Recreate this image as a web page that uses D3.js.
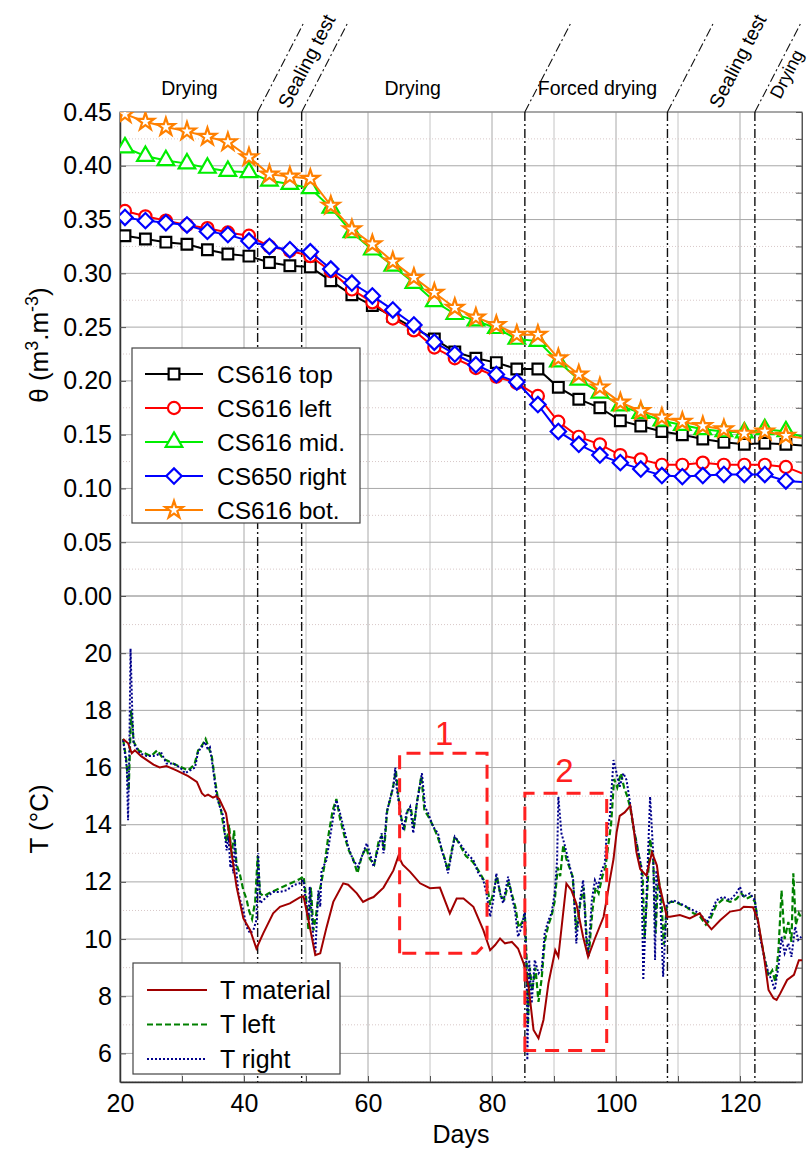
<!DOCTYPE html>
<html>
<head>
<meta charset="utf-8">
<script src="https://cdn.jsdelivr.net/npm/d3@7"></script>
<style>
body { margin: 0; background: #fff; }
text { font-family: "Liberation Sans", Arial, sans-serif; }
</style>
</head>
<body>
<div id="chart"></div>
<script>
// moisture content, one marker every ~3.3 days (last point = axis end, no marker)
var thetaDays = [20.8, 24.1, 27.4, 30.8, 34.1, 37.4, 40.8, 44.1, 47.4, 50.7, 54.0, 57.4, 60.7, 64.0, 67.4, 70.7, 74.0,
  77.4, 80.7, 84.0, 87.4, 90.7, 94.0, 97.4, 100.7, 104.0, 107.4, 110.7, 114.0, 117.4, 120.7, 124.0, 127.4, 130.0];
var csTop = [.335, .332, .329, .327, .322, .318, .316, .310, .307, .306, .293, .280, .270, .260, .249, .239, .227,
  .221, .217, .211, .211, .194, .183, .175, .163, .158, .153, .150, .146, .143, .141, .142, .141, .140];
var csLeft = [.358, .353, .349, .345, .342, .338, .335, .325, .321, .316, .302, .285, .273, .258, .247, .231, .221,
  .212, .204, .198, .186, .162, .148, .141, .131, .127, .122, .122, .124, .122, .122, .122, .120, .114];
var csMid = [.417, .409, .405, .402, .398, .395, .394, .386, .383, .379, .361, .338, .322, .307, .291, .274, .262,
  .256, .249, .239, .237, .218, .201, .189, .177, .170, .163, .159, .155, .153, .152, .155, .153, .148];
var csRight = [.352, .349, .347, .345, .339, .336, .330, .325, .322, .320, .304, .291, .279, .266, .252, .236, .225,
  .215, .206, .199, .178, .153, .141, .131, .124, .118, .112, .111, .112, .113, .113, .113, .107, .106];
var csBot = [.448, .441, .436, .432, .427, .422, .408, .392, .390, .388, .363, .341, .327, .311, .296, .282, .268,
  .259, .252, .243, .243, .221, .206, .194, .180, .172, .166, .162, .158, .155, .151, .153, .149, .147];

// temperatures
var tMatDays = [20.5, 21.3, 21.9, 22.4, 23.4, 25.4, 26.4, 27.5, 29.1, 31.0, 32.4, 33.2, 33.7, 34.2, 35.0, 35.5, 36.0,
  37.1, 37.6, 38.0, 38.8, 39.9, 41.0, 42.0, 43.1, 44.7, 45.8, 47.4, 49.0, 49.6, 50.4, 51.5, 52.3, 53.3, 54.4, 56.0,
  56.8, 58.2, 59.2, 60.1, 60.9, 62.5, 64.1, 64.9, 65.6, 66.8, 68.4, 70.0, 71.6, 73.2, 74.3, 75.4, 77.0, 78.6, 79.7,
  80.5, 81.3, 82.1, 83.2, 84.2, 85.1, 85.9, 86.7, 87.5, 88.3, 89.1, 90.2, 90.7, 92.0, 92.8, 93.6, 94.7, 95.5, 96.6,
  98.0, 98.5, 99.0, 99.6, 100.1, 100.6, 101.4, 102.3, 102.8, 103.3, 103.9, 104.9, 105.8, 106.6, 107.0, 108.2, 108.7,
  110.3, 111.9, 113.5, 114.6, 115.4, 116.8, 118.4, 120.0, 120.6, 122.1, 122.9, 123.8, 124.6, 125.4, 125.9, 126.5,
  127.6, 128.7, 129.5, 130.0];
var tMat = [17.0, 16.85, 16.5, 16.6, 16.4, 16.1, 16.0, 16.05, 15.9, 15.7, 15.5, 15.1, 15.0, 15.05, 14.95, 15.0, 14.9,
  14.4, 13.7, 13.0, 11.83, 10.72, 10.31, 9.67, 10.2, 10.9, 11.13, 11.25, 11.46, 11.5, 10.66, 9.44, 9.5, 10.4, 11.3, 11.95,
  11.9, 11.6, 11.3, 11.4, 11.47, 11.8, 12.4, 12.9, 12.6, 12.35, 11.95, 11.78, 11.8, 10.9, 11.42, 11.42, 11.13, 10.31, 9.61,
  9.79, 10.02, 9.85, 9.9, 9.67, 9.15, 8.33, 6.82, 6.53, 7.17, 8.45, 9.61, 9.38, 11.94, 11.71, 11.24, 10.07, 9.38, 10.02,
  10.78, 11.4, 12.06, 12.8, 13.73, 14.31, 14.43, 14.66, 13.96, 13.03, 12.45, 12.22, 13.03, 12.57, 11.9, 10.78, 10.78,
  10.84, 10.72, 10.9, 10.55, 10.34, 10.66, 10.96, 11.02, 11.13, 11.11, 10.66, 9.5, 8.22, 7.93, 7.87, 8.1,
  8.57, 8.75, 9.26, 9.26];

var tLeftDays = [20.5, 21.0, 21.4, 21.8, 22.2, 23.0, 24.0, 25.0, 26.0, 27.0, 28.0, 29.0, 30.0, 31.0, 32.0, 32.6, 33.3,
  33.8, 34.3, 34.8, 35.3, 35.8, 36.3, 36.8, 37.2, 37.6, 38.0, 38.4, 38.8, 39.3, 39.9, 40.4, 40.8, 41.3, 41.8, 42.2, 42.6,
  43.2, 44.0, 45.0, 46.0, 47.0, 48.0, 49.0, 49.6, 50.0, 50.4, 50.8, 51.2, 51.6, 52.0, 52.4, 53.0, 53.6, 54.3, 54.9, 55.5,
  56.2, 56.9, 57.6, 58.3, 59.0, 59.7, 60.3, 61.0, 61.7, 62.2, 62.6, 63.1, 63.6, 64.1, 64.5, 64.9, 65.4, 65.9, 66.4, 66.9,
  67.4, 67.9, 68.6, 69.1, 69.7, 70.4, 71.2, 71.8, 72.4, 72.9, 73.5, 74.0, 74.8, 75.8, 76.9, 77.8, 78.6, 79.2, 79.7, 80.3,
  80.8, 81.4, 82.0, 82.7, 83.3, 83.8, 84.3, 84.9, 85.3, 85.6, 85.8, 86.1, 86.5, 87.0, 87.5, 88.0, 88.5, 89.1, 89.6, 90.1,
  90.6, 91.0, 91.5, 92.0, 92.5, 93.0, 93.6, 94.2, 94.8, 95.3, 95.6, 96.2, 96.7, 97.2, 97.8, 98.3, 98.7, 99.2, 99.7, 100.2,
  100.8, 101.3, 101.8, 102.3, 102.8, 103.3, 103.8, 104.3, 104.6, 105.0, 105.5, 106.0, 106.4, 106.8, 107.3, 107.7, 108.2,
  108.8, 109.5, 110.5, 111.5, 112.5, 113.5, 114.5, 115.2, 116.2, 117.3, 118.4, 119.4, 120.2, 121.0, 121.8, 122.4, 123.2,
  124.0, 124.6, 125.2, 125.7, 126.2, 126.7, 127.2, 127.8, 128.3, 128.6, 129.0, 129.5, 130.0];
var tLeft = [17.0, 16.3, 15.2, 18.0, 16.9, 16.6, 16.5, 16.4, 16.6, 16.3, 16.2, 16.1, 16.0, 15.9, 16.1, 16.6, 16.8,
  17.0, 16.7, 16.4, 15.6, 14.9, 14.5, 13.8, 13.4, 14.0, 12.9, 13.8, 12.6, 12.3, 11.7, 11.4, 11.0, 10.7, 11.3, 12.9, 11.6,
  11.5, 11.6, 11.7, 11.8, 11.9, 12.0, 12.1, 12.2, 11.5, 10.3, 11.8, 10.3, 10.8, 11.5, 11.9, 12.6, 13.6, 14.5, 14.9, 14.2,
  13.6, 13.1, 12.8, 12.3, 12.9, 13.2, 12.8, 12.6, 13.4, 13.6, 13.1, 14.5, 14.9, 15.4, 15.9, 15.0, 14.2, 13.9, 14.5, 14.6,
  13.9, 14.8, 15.7, 14.5, 14.3, 14.0, 13.6, 13.2, 12.8, 12.4, 13.1, 13.6, 13.3, 12.9, 12.7, 12.4, 12.1, 11.9, 11.2, 11.7,
  12.2, 11.5, 11.4, 12.0, 11.5, 11.1, 10.4, 10.6, 10.9, 9.2, 7.0, 9.0, 8.2, 9.0, 7.8, 8.6, 9.9, 10.5, 10.8, 11.3,
  12.5, 12.2, 13.3, 12.8, 12.5, 12.2, 10.3, 11.2, 11.8, 9.9, 9.4, 11.0, 11.8, 11.6, 12.2, 12.5, 13.2, 14.0, 15.6, 15.3,
  15.8, 15.3, 15.0, 14.6, 13.9, 13.4, 12.8, 12.2, 10.0, 11.5, 13.5, 12.8, 10.2, 12.2, 11.5, 9.8, 11.2,
  11.3, 11.3, 11.2, 11.1, 10.9, 10.8, 10.5, 10.7, 11.2, 11.4, 11.3, 11.4, 11.6, 11.4, 11.5, 11.3, 10.2,
  9.3, 8.7, 8.9, 8.5, 9.6, 11.7, 10.0, 10.6, 9.9, 12.3, 10.5, 10.9, 10.7];

var tRightDays = [20.5, 20.8, 21.1, 21.3, 21.5, 21.7, 22.0, 22.2, 23.2, 24.3, 25.4, 26.7, 27.5, 28.6, 29.7, 30.5, 31.3,
  32.1, 32.6, 33.2, 33.7, 34.1, 34.5, 35.1, 35.6, 36.1, 36.7, 36.9, 37.2, 37.5, 37.8, 38.0, 38.3, 38.5, 38.8, 39.1, 39.4,
  39.9, 40.4, 41.0, 41.5, 42.0, 42.3, 42.6, 43.1, 43.7, 44.7, 45.8, 46.9, 48.0, 49.0, 49.6, 49.8, 50.4, 50.6, 51.2, 51.5,
  51.7, 52.0, 52.3, 52.5, 53.3, 54.4, 54.9, 55.5, 56.3, 56.8, 57.6, 58.4, 59.2, 59.8, 60.3, 60.9, 61.7, 62.2, 62.5, 63.0,
  63.5, 64.1, 64.4, 64.6, 65.2, 65.7, 66.2, 66.8, 67.3, 67.8, 68.7, 69.2, 69.7, 70.5, 71.3, 71.9, 72.4, 72.9, 73.5, 74.0,
  74.8, 75.9, 77.0, 77.8, 78.6, 79.1, 79.7, 80.2, 80.7, 81.3, 81.8, 82.6, 83.2, 83.7, 84.2, 84.8, 85.3, 85.6, 85.7, 86.0,
  86.4, 86.9, 87.5, 88.0, 88.5, 89.1, 89.6, 90.1, 90.5, 90.7, 91.2, 91.8, 92.3, 92.8, 93.1, 93.6, 94.2, 94.7, 95.3, 95.5,
  96.1, 96.6, 97.1, 97.7, 98.2, 98.5, 99.0, 99.6, 100.1, 100.6, 101.2, 101.7, 102.2, 102.5, 103.0, 103.6, 104.1, 104.4,
  104.9, 105.5, 106.0, 106.3, 106.5, 107.1, 107.6, 108.2, 108.7, 109.2, 110.3, 111.4, 112.5, 113.5, 114.6, 115.1, 116.2,
  117.3, 118.4, 119.4, 120.0, 120.5, 121.6, 122.4, 123.2, 124.0, 124.6, 125.1, 125.6, 126.2, 126.7, 127.2, 127.8, 128.3,
  128.9, 129.4, 129.9];
var tRight = [16.96, 16.49, 16.0, 14.16, 16.5, 20.16, 17.8, 16.84, 16.5, 16.4, 16.4, 16.5, 16.14, 16.14, 16.0, 15.8, 15.9,
  16.0, 16.55, 16.72, 16.9, 16.67, 16.72, 15.8, 14.98, 14.63, 14.28, 13.7, 13.1, 13.6, 12.5, 12.76, 12.3, 13.5, 12.3, 11.6, 11.36,
  11.0, 10.43, 10.2, 10.3, 10.66, 13.0, 11.25, 11.36, 11.48, 11.65, 11.65, 11.71, 11.89, 11.95, 12.06, 11.6, 10.66, 11.83, 9.97, 9.5,
  10.43, 11.7, 11.13, 12.4, 12.76, 14.28, 14.86, 14.39, 13.7, 13.23, 12.76, 12.53, 13.0, 13.35, 13.0, 12.53, 13.23, 13.7, 13.0, 14.4,
  14.86, 15.33, 16.0, 15.33, 14.4, 13.8, 14.4, 14.63, 13.7, 14.63, 15.8, 14.63, 14.4, 13.93, 13.7, 13.1, 12.76, 12.3, 13.0, 13.58,
  13.35, 13.0, 12.76, 12.3, 12.06, 11.6, 10.78, 11.36, 12.3, 11.6, 11.25, 12.18, 11.48, 11.0, 10.08, 10.43, 11.0, 8.68, 5.77, 9.27,
  7.75, 9.27, 8.8, 8.92, 10.2, 10.66, 10.9, 11.6, 12.76, 14.98, 13.7, 13.23, 12.76, 12.3, 12.06, 9.85, 11.36, 12.06, 9.62, 9.38,
  11.36, 12.06, 11.83, 12.4, 12.65, 13.7, 14.28, 16.26, 15.8, 15.33, 15.8, 15.56, 14.86, 14.4, 13.7, 13.0, 12.53, 8.57,
  11.36, 14.98, 13.0, 9.27, 12.4, 11.6, 8.68, 11.25, 11.25, 11.36, 11.25, 11.13, 11.0, 10.9, 10.6, 10.78, 11.36,
  11.48, 11.36, 11.6, 11.83, 11.48, 11.6, 11.36, 10.08, 9.27, 8.8, 8.57, 8.22, 9.03, 10.08, 9.5, 9.85, 9.38,
  10.43, 9.97, 10.08];

// test phases
var eventDays = [42.2, 49.3, 85.3, 108.3, 122.4];
var phaseNames = ["Drying", "Sealing test", "Drying", "Forced drying", "Sealing test", "Drying"];
var phaseDays = [31.2, 50.1, 67.2, 97.0, 119.6, 127.5];
var phaseTilted = [false, true, false, false, true, true];

var xTicks = [20, 30, 40, 50, 60, 70, 80, 90, 100, 110, 120, 130];
var thetaTicks = [0, 0.05, 0.1, 0.15, 0.2, 0.25, 0.3, 0.35, 0.4, 0.45];
var tempTicks = [6, 8, 10, 12, 14, 16, 18, 20, 22];

var
  w = 811,
  h = 1150,
  left = 120,
  right = 802,
  topY = 112,
  midY = 596,
  bottomY = 1082;

var x = d3.scaleLinear().domain([20, 130]).range([left, right]);
var yTh = d3.scaleLinear().domain([0, 0.45]).range([midY, topY]);
var yT = d3.scaleLinear().domain([5, 22]).range([bottomY, midY]);

var svg = d3.select("#chart").append("svg")
  .attr("width", w)
  .attr("height", h)
  .attr("style", "background-color: white;");

var defs = svg.append("defs");
defs.append("clipPath").attr("id", "clipTop").append("rect")
  .attr("x", left).attr("y", topY).attr("width", right - left).attr("height", midY - topY);
defs.append("clipPath").attr("id", "clipBot").append("rect")
  .attr("x", left).attr("y", midY).attr("width", right - left).attr("height", bottomY - midY);

// grid
var grid = svg.append("g");
grid.selectAll(".vg").data(xTicks).enter().append("line")
  .attr("x1", function(d) { return x(d); }).attr("x2", function(d) { return x(d); })
  .attr("y1", topY).attr("y2", bottomY)
  .attr("stroke", function(d) { return d % 20 == 0 ? "#a8a8a8" : "#c4c4c4"; })
  .attr("stroke-width", 1);
grid.selectAll(".hgTop").data(thetaTicks).enter().append("line")
  .attr("x1", left).attr("x2", right)
  .attr("y1", function(d) { return yTh(d); }).attr("y2", function(d) { return yTh(d); })
  .attr("stroke", "#a8a8a8");
grid.selectAll(".hmTop").data(thetaTicks.slice(0, -1)).enter().append("line")
  .attr("x1", left).attr("x2", right)
  .attr("y1", function(d) { return yTh(d + 0.025); }).attr("y2", function(d) { return yTh(d + 0.025); })
  .attr("stroke", "#d8c8c8").attr("stroke-dasharray", "1,2");
grid.selectAll(".hgBot").data(tempTicks).enter().append("line")
  .attr("x1", left).attr("x2", right)
  .attr("y1", function(d) { return yT(d); }).attr("y2", function(d) { return yT(d); })
  .attr("stroke", "#a8a8a8");
grid.selectAll(".hmBot").data([5, 7, 9, 11, 13, 15, 17, 19, 21]).enter().append("line")
  .attr("x1", left).attr("x2", right)
  .attr("y1", function(d) { return yT(d); }).attr("y2", function(d) { return yT(d); })
  .attr("stroke", "#d8c8c8").attr("stroke-dasharray", "1,2");

// frame: top/right grey
svg.append("rect").attr("x", left).attr("y", topY).attr("width", right - left).attr("height", bottomY - topY)
  .attr("fill", "none").attr("stroke", "#8a8a8a").attr("stroke-width", 1.2);

// event lines
var ev = svg.append("g")
  .attr("stroke", "#111").attr("stroke-width", 1.4).attr("stroke-dasharray", "9,3,2,3").attr("fill", "none");
ev.selectAll(".ev").data(eventDays).enter().append("line")
  .attr("x1", function(d) { return x(d); }).attr("x2", function(d) { return x(d); })
  .attr("y1", topY).attr("y2", bottomY);
ev.selectAll(".evs").data(eventDays).enter().append("line")
  .attr("x1", function(d) { return x(d); }).attr("x2", function(d) { return x(d) + 46; })
  .attr("y1", topY).attr("y2", 23)
  .attr("stroke-width", 1.1);

// phase labels
svg.selectAll(".phase").data(phaseNames).enter().append("text")
  .attr("transform", function(d, i) {
    var px = x(phaseDays[i]);
    if (phaseTilted[i]) return "translate(" + px + "," + (i == 5 ? 74 : 61) + ") rotate(-62.7)";
    return "translate(" + px + ",95)";
  })
  .attr("text-anchor", "middle")
  .attr("dy", function(d, i) { return phaseTilted[i] ? "0.35em" : 0; })
  .attr("font-size", function(d, i) { return i == 5 ? 18 : 19.5; })
  .text(function(d) { return d; });

// axes
var xAxis = d3.axisBottom(x).tickValues(xTicks)
  .tickFormat(function(d) { return d % 20 == 0 ? d : ""; })
  .tickSizeInner(-6).tickSizeOuter(0).tickPadding(12);
var gx = svg.append("g").attr("transform", "translate(0," + bottomY + ")").call(xAxis);

var yAxisTop = d3.axisLeft(yTh).tickValues(thetaTicks).tickFormat(d3.format(".2f"))
  .tickSizeInner(-6).tickSizeOuter(0).tickPadding(8);
var gyt = svg.append("g").attr("transform", "translate(" + left + ",0)").call(yAxisTop);

var yAxisBot = d3.axisLeft(yT).tickValues(tempTicks.slice(0, -1))
  .tickSizeInner(-6).tickSizeOuter(0).tickPadding(8);
var gyb = svg.append("g").attr("transform", "translate(" + left + ",0)").call(yAxisBot);

var rAxisTop = d3.axisRight(yTh).tickValues(d3.range(0, 0.451, 0.025)).tickFormat("")
  .tickSizeInner(-6).tickSizeOuter(0);
svg.append("g").attr("transform", "translate(" + right + ",0)").call(rAxisTop);
var rAxisBot = d3.axisRight(yT).tickValues(d3.range(5, 22.1, 1)).tickFormat("")
  .tickSizeInner(-6).tickSizeOuter(0);
svg.append("g").attr("transform", "translate(" + right + ",0)").call(rAxisBot);

svg.selectAll(".tick text").attr("font-size", 25).attr("fill", "#000")
  .attr("font-family", "'Liberation Sans', Arial, sans-serif");
svg.selectAll(".domain").attr("stroke", "#555");
svg.selectAll(".tick line").attr("stroke", "#555");
gx.select(".domain").attr("stroke", "#333").attr("stroke-width", 1.5);
gyt.select(".domain").attr("stroke", "#333").attr("stroke-width", 1.5);
gyb.select(".domain").attr("stroke", "#333").attr("stroke-width", 1.5);

svg.append("text").attr("x", x(75)).attr("y", 1143).attr("text-anchor", "middle")
  .attr("font-size", 25).text("Days");

var thLab = svg.append("text").attr("transform", "translate(48,345) rotate(-90)")
  .attr("text-anchor", "middle").attr("font-size", 26);
thLab.append("tspan").text("\u03b8 (m");
thLab.append("tspan").attr("baseline-shift", "super").attr("font-size", 18).text("3");
thLab.append("tspan").text(".m");
thLab.append("tspan").attr("baseline-shift", "super").attr("font-size", 18).text("-3");
thLab.append("tspan").text(")");

svg.append("text").attr("transform", "translate(48," + yT(14.2) + ") rotate(-90)")
  .attr("text-anchor", "middle").attr("font-size", 26).text("T (\u00b0C)");

// moisture series
var thetaSeries = [
  {name: "CS616 top", vals: csTop, color: "#000000", sym: "square"},
  {name: "CS616 left", vals: csLeft, color: "#ff0000", sym: "circle"},
  {name: "CS616 mid.", vals: csMid, color: "#00ee00", sym: "triangle"},
  {name: "CS650 right", vals: csRight, color: "#0000ff", sym: "diamond"},
  {name: "CS616 bot.", vals: csBot, color: "#ff8000", sym: "star"}
];

function symPath(s) {
  if (s == "square") return d3.symbol(d3.symbolSquare, 115)();
  if (s == "circle") return d3.symbol(d3.symbolCircle, 115)();
  if (s == "triangle") return d3.symbol(d3.symbolTriangle, 120)();
  if (s == "diamond") return d3.symbol(d3.symbolSquare, 118)();
  return d3.symbol(d3.symbolStar, 95)();
}
function symRot(s) { return s == "diamond" ? " rotate(45)" : ""; }

var thLine = d3.line()
  .x(function(d, i) { return x(thetaDays[i]); })
  .y(function(d) { return yTh(d); });

var topG = svg.append("g").attr("clip-path", "url(#clipTop)");
thetaSeries.forEach(function(s) {
  var g = topG.append("g");
  g.append("path").attr("d", thLine(s.vals)).attr("fill", "none")
    .attr("stroke", s.color).attr("stroke-width", 2);
  g.selectAll("path.m").data(s.vals.slice(0, -1)).enter().append("path")
    .attr("class", "m")
    .attr("d", symPath(s.sym))
    .attr("transform", function(d, i) {
      return "translate(" + x(thetaDays[i]) + "," + yTh(d) + ")" + symRot(s.sym);
    })
    .attr("fill", "#fff").attr("stroke", s.color).attr("stroke-width", 2.2);
});

// temperature series
var tSeries = [
  {name: "T material", days: tMatDays, vals: tMat, color: "#a00000", dash: null, width: 2},
  {name: "T left", days: tLeftDays, vals: tLeft, color: "#008000", dash: "6,3", width: 2.2},
  {name: "T right", days: tRightDays, vals: tRight, color: "#00008b", dash: "2,2", width: 2}
];
var botG = svg.append("g").attr("clip-path", "url(#clipBot)");
[1, 2, 0].forEach(function(k) {
  var s = tSeries[k];
  var ln = d3.line()
    .x(function(d, i) { return x(s.days[i]); })
    .y(function(d) { return yT(d); });
  botG.append("path").attr("d", ln(s.vals)).attr("fill", "none")
    .attr("stroke", s.color).attr("stroke-width", s.width)
    .attr("stroke-dasharray", s.dash);
});

// red dashed boxes
var boxes = svg.append("g").attr("fill", "none").attr("stroke", "#ff2020")
  .attr("stroke-width", 3).attr("stroke-dasharray", "14,9");
boxes.append("path").attr("d", "M" + x(65.1) + "," + yT(9.5) + "V" + yT(16.5) + "H" + x(79.2) +
  "V" + yT(9.9) + "L" + x(77.5) + "," + yT(9.5) + "Z");
boxes.append("path").attr("d", "M" + x(85.3) + "," + yT(6.1) + "V" + yT(15.1) + "H" + x(98.5) +
  "V" + yT(6.1) + "Z");
svg.append("text").attr("x", x(72.3)).attr("y", yT(16.8)).attr("text-anchor", "middle")
  .attr("font-size", 33).attr("fill", "#ff2020").text("1");
svg.append("text").attr("x", x(91.7)).attr("y", yT(15.5)).attr("text-anchor", "middle")
  .attr("font-size", 33).attr("fill", "#ff2020").text("2");

// legends
var leg1 = svg.append("g");
leg1.append("rect").attr("x", 132).attr("y", 348).attr("width", 228).attr("height", 175)
  .attr("fill", "#fff").attr("stroke", "#444").attr("stroke-width", 1.2);
thetaSeries.forEach(function(s, i) {
  var yy = 374 + i * 34;
  leg1.append("line").attr("x1", 145).attr("x2", 203).attr("y1", yy).attr("y2", yy)
    .attr("stroke", s.color).attr("stroke-width", 2);
  leg1.append("path").attr("d", symPath(s.sym))
    .attr("transform", "translate(174," + yy + ")" + symRot(s.sym))
    .attr("fill", "#fff").attr("stroke", s.color).attr("stroke-width", 2.2);
  leg1.append("text").attr("x", 217).attr("y", yy).attr("dy", "0.35em")
    .attr("font-size", 24.5).text(s.name);
});

var leg2 = svg.append("g");
leg2.append("rect").attr("x", 133).attr("y", 963).attr("width", 207).attr("height", 111)
  .attr("fill", "#fff").attr("stroke", "#444").attr("stroke-width", 1.2);
tSeries.forEach(function(s, i) {
  var yy = 990 + i * 34.5;
  leg2.append("line").attr("x1", 147).attr("x2", 207).attr("y1", yy).attr("y2", yy)
    .attr("stroke", s.color).attr("stroke-width", s.width).attr("stroke-dasharray", s.dash);
  leg2.append("text").attr("x", 220).attr("y", yy).attr("dy", "0.35em")
    .attr("font-size", 25).text(s.name);
});
</script>
</body>
</html>
